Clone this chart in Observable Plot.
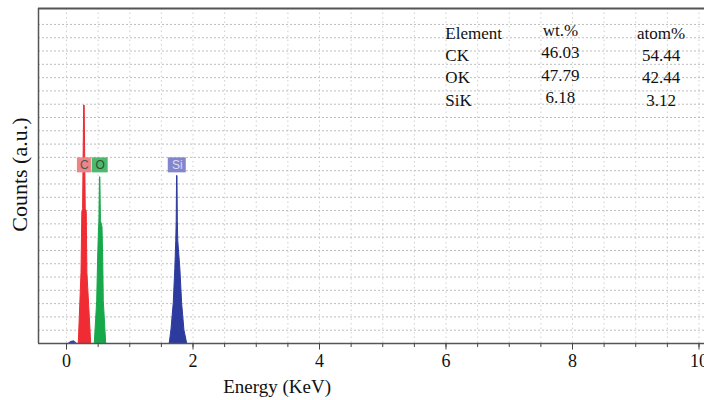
<!DOCTYPE html>
<html><head><meta charset="utf-8">
<script src="https://cdn.jsdelivr.net/npm/d3@7"></script>
<script src="https://cdn.jsdelivr.net/npm/@observablehq/plot@0.6"></script>
<style>body{margin:0;background:#fff;overflow:hidden}</style>
</head><body><div id="chart"></div>
<script>
// Peak profiles (energy in keV, counts in a.u.)
const energyC = [0.194,0.210,0.237,0.250,0.262,0.279,0.287,0.304,0.320,0.330,0.368,0.390];
const countsC = [0,    2.0,  5.3,  9.9,  10.1, 17.9, 17.9, 10.1, 9.9,  5.3,  2.0,  0];
const energyO = [0.447,0.485,0.500,0.515,0.520,0.529,0.535,0.544,0.569,0.580,0.589,0.627];
const countsO = [0,    3.2,  6.4,  8.75, 9.2,  12.5, 12.5, 9.2,  8.75, 6.4,  3.2,  0];
const energySi = [1.632,1.659,1.695,1.720,1.735,1.742,1.748,1.754,1.760,1.767,1.800,1.828,1.864,1.907];
const countsSi = [0,    1.0,  3.0,  5.6,  7.7,  9.2,  12.6, 12.6, 9.2,  7.7,  5.6,  3.0,  1.0,  0];
const energyBump = [0.03,0.07,0.12,0.17];
const countsBump = [0,0.15,0.2,0];

// Peak labels
const labelNames = ["C","O","Si"];
const labelEnergy = [0.283,0.532,1.751];

// Composition table
const tableElements = ["CK","OK","SiK"];
const tableWt = ["46.03","47.79","6.18"];
const tableAtom = ["54.44","42.44","3.12"];

// Axis ticks
const xMajorTicks = [0,2,4,6,8,10];
const xMinorTicks = d3.range(0, 10.01, 0.5);
const yGridTicks = d3.range(1, 25);

const toRows = (xs, ys) => xs.map((x, i) => ({energy: x, counts: ys[i]}));

const serif = "'Times New Roman','Liberation Serif',serif";
const sans = "Arial,'Liberation Sans',sans-serif";

const labels = labelNames.map((n, i) => ({name: n, energy: labelEnergy[i]}));
const labelColors = {C: "#ec8587", O: "#4cb96c", Si: "#8486cc"};
const labelText = {C: "#555", O: "#2f4f37", Si: "#dcdcf3"};
const labelHalf = {C: 7, O: 8, Si: 9};
const labelLevel = 13.4;

const rowsTable = tableElements.map((e, i) => ({el: e, wt: tableWt[i], atom: tableAtom[i], i}));
const headerRow = [{el: "Element", wt: "wt.%", atom: "atom%", i: -1}];
const allRows = headerRow.concat(rowsTable);
const rowY = i => 23.35 - (i + 1) * 1.68;

const peak = (xs, ys, color) => Plot.areaY(toRows(xs, ys), {
  x: "energy", y: "counts", fill: color, stroke: color, strokeWidth: 1, strokeLinejoin: "round"
});

const plot = Plot.plot({
  width: 704,
  height: 400,
  marginLeft: 38,
  marginRight: 0,
  marginTop: 8,
  marginBottom: 57,
  style: {fontFamily: serif, color: "#1a1a1a", background: "#fff", overflow: "visible"},
  x: {domain: [-0.443, 10.087]},
  y: {domain: [0, 25.2]},
  marks: [
    Plot.gridX(xMinorTicks, {stroke: "#cfcfcf", strokeOpacity: 1, strokeDasharray: "1.5,3"}),
    Plot.gridY(yGridTicks, {stroke: "#bdbdbd", strokeOpacity: 1, strokeDasharray: "2,2"}),
    Plot.areaY(toRows(energyBump, countsBump), {x: "energy", y: "counts", fill: "#3a44a8"}),
    peak(energyC, countsC, "#ef2b33"),
    peak(energyO, countsO, "#16a84a"),
    peak(energySi, countsSi, "#2d3b9e"),
    ...labels.map(l => Plot.rect([l], {
      x1: "energy", x2: "energy", y1: () => labelLevel, y2: () => labelLevel,
      insetLeft: -labelHalf[l.name], insetRight: -labelHalf[l.name], insetTop: -7.5, insetBottom: -7.5,
      fill: labelColors[l.name]
    })),
    ...labels.map(l => Plot.text([l], {
      x: "energy", y: () => labelLevel, text: "name", fill: labelText[l.name],
      fontFamily: sans, fontSize: 12
    })),
    // table
    Plot.text(allRows, {x: () => 5.99, y: d => rowY(d.i), text: "el", textAnchor: "start", fontSize: 17, fill: "#111"}),
    Plot.text(allRows, {x: () => 7.81, y: d => rowY(d.i) + 0.2, text: "wt", fontSize: 17, fill: "#111"}),
    Plot.text(allRows, {x: () => 9.4, y: d => rowY(d.i), text: "atom", fontSize: 17, fill: "#111"}),
    // frame
    Plot.ruleX([-0.443], {stroke: "#555", strokeWidth: 1.5}),
    Plot.ruleY([25.2], {stroke: "#555", strokeWidth: 2}),
    Plot.ruleY([0], {stroke: "#555", strokeWidth: 1.5}),
    Plot.axisX({ticks: xMinorTicks, tickSize: 4, text: null, label: null, stroke: "#444"}),
    Plot.axisX({ticks: xMajorTicks, tickSize: 6.5, tickPadding: 4, fontSize: 18, fill: "#111", stroke: "#444", label: null, tickFormat: d3.format("d")}),
    Plot.axisY({ticks: [], label: null}),
    Plot.text(["Energy (KeV)"], {x: () => 3.33, frameAnchor: "bottom", lineAnchor: "middle", dy: 43, fontSize: 19, fill: "#111"}),
    Plot.text(["Counts (a.u.)"], {y: () => 12.7, frameAnchor: "left", textAnchor: "middle", lineAnchor: "middle", dx: -19, rotate: -90, fontSize: 22, fill: "#111"})
  ]
});
document.getElementById("chart").append(plot);
</script>
</body></html>
